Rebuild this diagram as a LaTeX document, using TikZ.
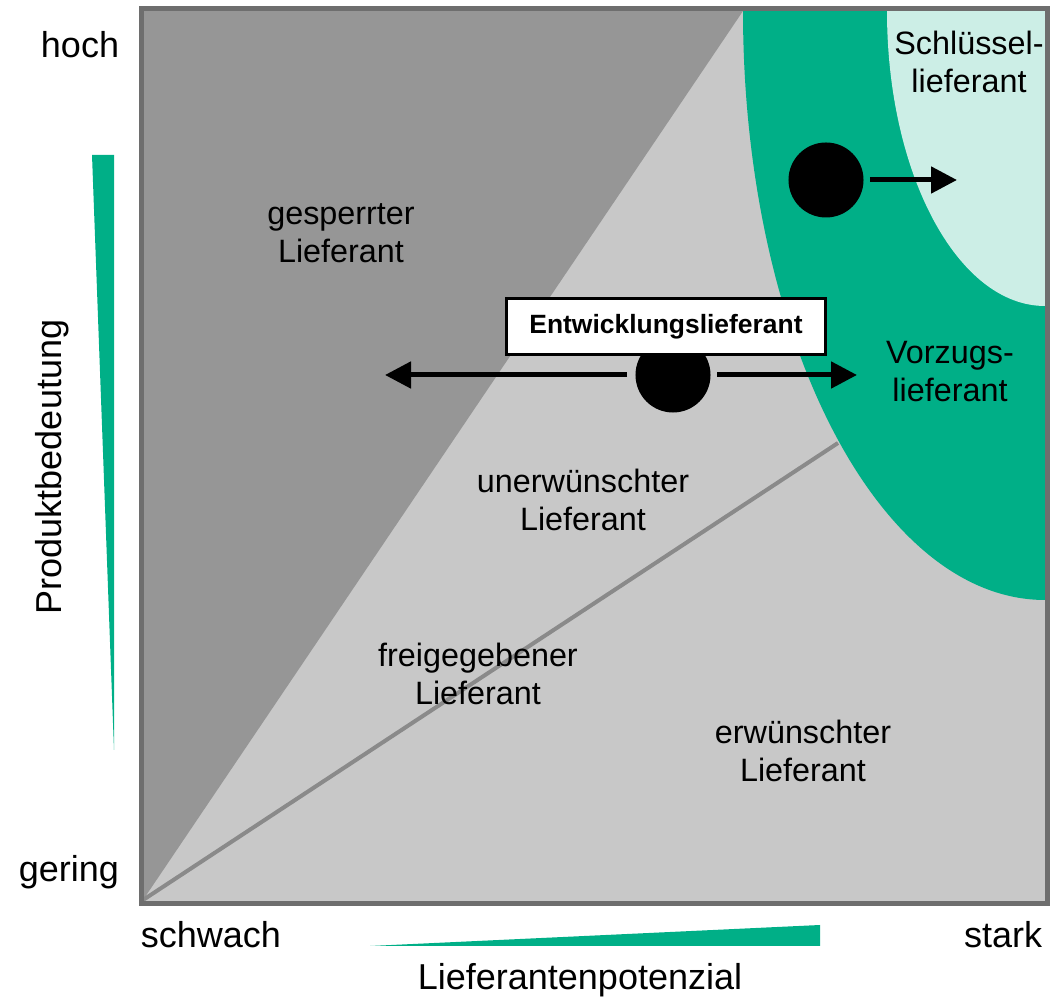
\documentclass[tikz,border=0pt]{standalone}
\usepackage{fontspec}
\setmainfont{Liberation Sans}
\usetikzlibrary{arrows.meta}

\definecolor{pgreen}{HTML}{00AF87}
\definecolor{pmint}{HTML}{CCEEE6}
\definecolor{pdark}{HTML}{969696}
\definecolor{plight}{HTML}{C8C8C8}
\definecolor{pframe}{HTML}{6E6E6E}

\begin{document}
\begin{tikzpicture}[
  x=0.025cm, y=0.025cm,
  region/.style={align=center, font=\fontsize{23}{27}\selectfont},
  axis/.style={font=\fontsize{25.6}{30}\selectfont},
  dot/.style={circle, fill=black, inner sep=0pt, minimum size=1.875cm},
  move/.style={-{Triangle[length=0.65cm, width=0.65cm]}, line width=0.125cm},
  label box/.style={draw, fill=white, line width=0.075cm, minimum width=7.95cm, minimum height=1.4cm, font=\fontsize{18.8}{22}\bfseries}
]
\useasboundingbox (0,0) rectangle (1054,1000);

% portfolio areas
\fill[plight] (143,99) rectangle (1045,989);
\fill[pdark] (143,100) -- (743,989) -- (143,989) -- cycle;
\draw[pdark!92!black, line width=0.1cm] (143,100) -- (838,557);
\fill[pgreen] (743,989) arc[start angle=180, end angle=270, x radius=302, y radius=589] -- (1045,989) -- cycle;
\fill[pmint] (887,989) arc[start angle=180, end angle=270, x radius=158, y radius=295] -- (1045,989) -- cycle;
\draw[pframe, line width=0.125cm] (141,96.5) rectangle (1047.5,991.5);

% region labels
\node[region] (key) at (969,938) {Schlüssel-\\lieferant};
\node[region] (blocked) at (341,767) {gesperrter\\Lieferant};
\node[region] (pref) at (950,628) {Vorzugs-\\lieferant};
\node[region] (unwanted) at (583,500) {unerwünschter\\Lieferant};
\node[region] (approved) at (478,326) {freigegebener\\Lieferant};
\node[region] (wanted) at (803,249) {erwünschter\\Lieferant};

% movements
\node[dot] (dot1) at (826,820) {};
\coordinate (key-r) at (957,820);
\draw[move, shorten <=0.15cm] (dot1) -- (key-r);

\node[dot] (dot2) at (673,625) {};
\coordinate (dev-l) at (385,625);
\coordinate (dev-r) at (857,625);
\draw[move, shorten <=0.2cm] (dot2) -- (dev-l);
\draw[move, shorten <=0.16cm] (dot2) -- (dev-r);
\node[label box] (dev) at (666,673) {Entwicklungslieferant};

% axes
\node[axis, anchor=east] (high) at (124,955) {hoch};
\node[axis, anchor=east] (low) at (124,128) {gering};
\node[axis, anchor=west] (weak) at (136,65) {schwach};
\node[axis, anchor=east] (strong) at (1047,65) {stark};
\node[axis] (xlabel) at (580,20) {Lieferantenpotenzial};
\node[axis, rotate=90] (ylabel) at (52,533) {Produktbedeutung};
\fill[pgreen] (92,845) -- (114,845) -- (114,250) -- cycle;
\fill[pgreen] (370,54) -- (820,54) -- (820,75) -- cycle;
\end{tikzpicture}
\end{document}
